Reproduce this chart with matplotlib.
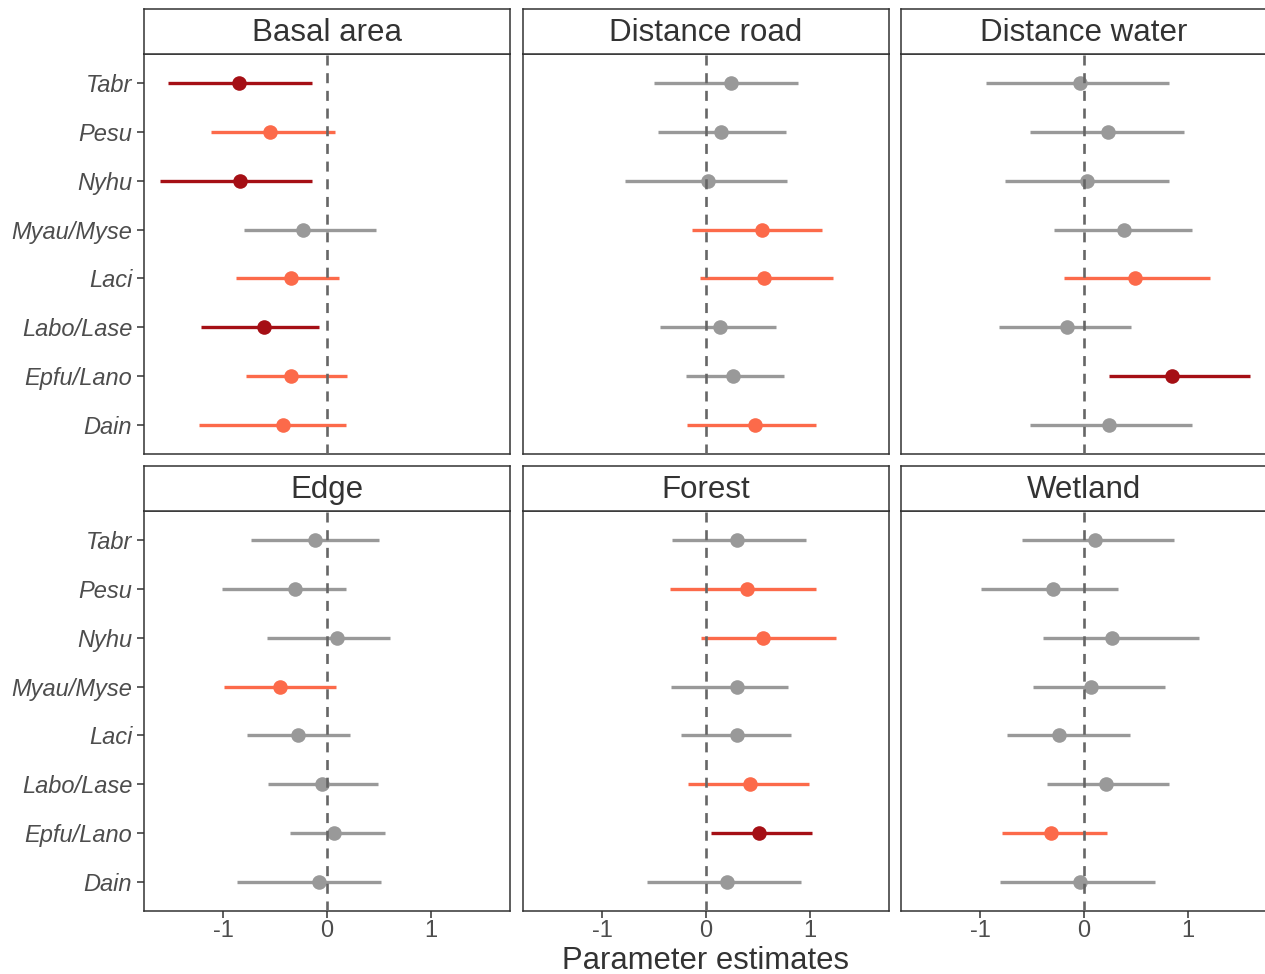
"""Forest-style coefficient plot: parameter estimates per species and covariate."""
import matplotlib
matplotlib.use("Agg")
import matplotlib.pyplot as plt

plt.rcParams['font.family'] = ['Liberation Sans', 'DejaVu Sans']

# species, top to bottom as shown
species = ["Tabr", "Pesu", "Nyhu", "Myau/Myse", "Laci", "Labo/Lase", "Epfu/Lano", "Dain"]

covariates = ["Basal area", "Distance road", "Distance water", "Edge", "Forest", "Wetland"]

# estimates, lower and upper limits, significance class (0 = n.s., 1 = weak, 2 = strong)
basal_est = [-0.85, -0.55, -0.84, -0.23, -0.35, -0.61, -0.35, -0.42]
basal_lo = [-1.53, -1.12, -1.61, -0.80, -0.88, -1.21, -0.78, -1.23]
basal_hi = [-0.14, 0.08, -0.14, 0.47, 0.12, -0.08, 0.19, 0.18]
basal_sig = [2, 1, 2, 0, 1, 2, 1, 1]

road_est = [0.24, 0.14, 0.02, 0.54, 0.56, 0.13, 0.26, 0.47]
road_lo = [-0.50, -0.46, -0.78, -0.13, -0.06, -0.44, -0.19, -0.18]
road_hi = [0.88, 0.77, 0.78, 1.12, 1.22, 0.67, 0.75, 1.06]
road_sig = [0, 0, 0, 1, 1, 0, 0, 1]

water_est = [-0.04, 0.23, 0.03, 0.38, 0.49, -0.16, 0.85, 0.24]
water_lo = [-0.94, -0.52, -0.76, -0.29, -0.19, -0.82, 0.24, -0.52]
water_hi = [0.82, 0.96, 0.82, 1.04, 1.21, 0.45, 1.60, 1.04]
water_sig = [0, 0, 0, 0, 1, 0, 2, 0]

edge_est = [-0.12, -0.31, 0.10, -0.45, -0.28, -0.05, 0.07, -0.08]
edge_lo = [-0.73, -1.01, -0.58, -0.99, -0.77, -0.57, -0.36, -0.87]
edge_hi = [0.50, 0.18, 0.61, 0.09, 0.22, 0.49, 0.56, 0.52]
edge_sig = [0, 0, 0, 1, 0, 0, 0, 0]

forest_est = [0.30, 0.39, 0.55, 0.30, 0.30, 0.42, 0.51, 0.20]
forest_lo = [-0.33, -0.35, -0.05, -0.34, -0.24, -0.17, 0.05, -0.57]
forest_hi = [0.96, 1.06, 1.25, 0.79, 0.82, 0.99, 1.02, 0.91]
forest_sig = [0, 1, 1, 0, 0, 1, 2, 0]

wet_est = [0.11, -0.30, 0.27, 0.07, -0.24, 0.21, -0.32, -0.04]
wet_lo = [-0.60, -0.99, -0.39, -0.49, -0.74, -0.36, -0.79, -0.81]
wet_hi = [0.87, 0.33, 1.11, 0.78, 0.44, 0.82, 0.22, 0.68]
wet_sig = [0, 0, 0, 0, 0, 0, 1, 0]

estimates = [basal_est, road_est, water_est, edge_est, forest_est, wet_est]
lowers = [basal_lo, road_lo, water_lo, edge_lo, forest_lo, wet_lo]
uppers = [basal_hi, road_hi, water_hi, edge_hi, forest_hi, wet_hi]
signif = [basal_sig, road_sig, water_sig, edge_sig, forest_sig, wet_sig]

sig_colors = {0: '#999999', 1: '#FC6A4A', 2: '#A50F15'}
text_grey = '#4D4D4D'
border = '#333333'

W, H = 1265, 974
fig = plt.figure(figsize=(W / 100, H / 100), dpi=100)

col_left = [144, 523, 901]
panel_w = 366
row_top = [54, 511]       # top of the plotting area (px from top)
panel_h = 400
strip_h = 45


def px_box(x0, y0, w, h):
    return [x0 / W, 1 - (y0 + h) / H, w / W, h / H]


n = len(species)
ypos = [n - i for i in range(n)]

for k, cov in enumerate(covariates):
    r, c = divmod(k, 3)
    ax = fig.add_axes(px_box(col_left[c], row_top[r], panel_w, panel_h))

    for yy, e, lo, hi, s in zip(ypos, estimates[k], lowers[k], uppers[k], signif[k]):
        col = sig_colors[s]
        ax.plot([lo, hi], [yy, yy], color=col, linewidth=2.4, solid_capstyle='butt', zorder=2)
        ax.plot(e, yy, 'o', color=col, markersize=10.5, markeredgewidth=0, zorder=3)

    ax.axvline(0, color='#666666', linewidth=1.9, linestyle=(0, (3.8, 2.9)), zorder=4)

    ax.set_xlim(-1.76, 1.76)
    ax.set_ylim(0.4, n + 0.6)
    ax.set_xticks([-1, 0, 1])
    ax.set_yticks(ypos)
    for sp in ax.spines.values():
        sp.set_color(border)
        sp.set_linewidth(1.1)

    ax.tick_params(colors=border, width=1.1, length=5, labelcolor=text_grey, labelsize=17)
    ax.tick_params(axis='x', pad=1.5)
    if c == 0:
        ax.set_yticklabels(species, fontstyle='italic')
    else:
        ax.tick_params(axis='y', left=False, labelleft=False)
    if r == 1:
        ax.set_xticklabels(['-1', '0', '1'])
    else:
        ax.tick_params(axis='x', bottom=False, labelbottom=False)

    # facet strip
    sax = fig.add_axes(px_box(col_left[c], row_top[r] - strip_h, panel_w, strip_h))
    sax.set_xticks([])
    sax.set_yticks([])
    for sp in sax.spines.values():
        sp.set_color(border)
        sp.set_linewidth(1.1)
    sax.text(0.5, 0.46, cov, ha='center', va='center', fontsize=22.5,
             color='#333333', transform=sax.transAxes)

fig.text((col_left[1] + panel_w / 2) / W, 1 - 969 / H, 'Parameter estimates',
         ha='center', va='baseline', fontsize=22.3, color='#333333')

fig.savefig('out.png', dpi=100)
plt.close(fig)
